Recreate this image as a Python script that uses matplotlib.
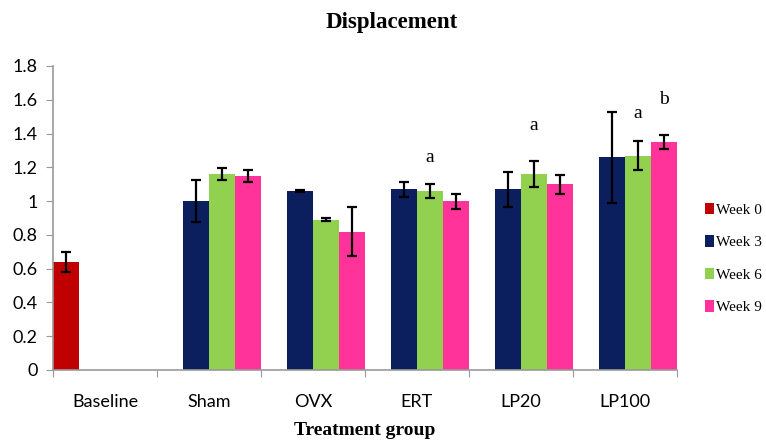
import numpy as np
import matplotlib.pyplot as plt

groups = ['Baseline', 'Sham', 'OVX', 'ERT', 'LP20', 'LP100']
weeks = ['Week 0', 'Week 3', 'Week 6', 'Week 9']
colors = ['#C00000', '#0B1F5E', '#92D050', '#FF3399']

# values per week (None = no bar in that group)
week0 = [0.64, None, None, None, None, None]
week3 = [None, 1.00, 1.06, 1.07, 1.07, 1.26]
week6 = [None, 1.16, 0.89, 1.06, 1.16, 1.27]
week9 = [None, 1.15, 0.82, 1.00, 1.10, 1.35]

err0 = [0.06, 0, 0, 0, 0, 0]
err3 = [0, 0.125, 0.008, 0.046, 0.104, 0.27]
err6 = [0, 0.035, 0.01, 0.043, 0.077, 0.088]
err9 = [0, 0.035, 0.146, 0.045, 0.055, 0.043]

# significance letters: (group index, week index, y, text)
letters = [(3, 2, 1.26, 'a'), (4, 2, 1.45, 'a'), (5, 2, 1.52, 'a'), (5, 3, 1.60, 'b')]

series = [week0, week3, week6, week9]
errs = [err0, err3, err6, err9]

fig = plt.figure(figsize=(7.66, 4.42), dpi=100)
ax = fig.add_axes([0.0692, 0.1629, 0.8146, 0.6878])

w = 0.25
x = np.arange(len(groups))
for j in range(4):
    xs, ys, es = [], [], []
    for i in range(len(groups)):
        if series[j][i] is not None:
            xs.append(x[i] + (j - 1.5) * w)
            ys.append(series[j][i])
            es.append(errs[j][i])
    ax.bar(xs, ys, width=w, color=colors[j], label=weeks[j], zorder=2)
    ax.errorbar(xs, ys, yerr=es, fmt='none', ecolor='black', elinewidth=1.6,
                capsize=3.5, capthick=1.6, zorder=3)

for gi, wi, yv, t in letters:
    ax.text(x[gi] + (wi - 1.5) * w, yv, t, ha='center', va='center',
            fontsize=14, family='Liberation Serif')

ax.set_xlim(-0.5, 5.5)
ax.set_ylim(0, 1.8)
ax.set_yticks(np.arange(0, 1.81, 0.2))
ax.set_yticklabels(['0', '0.2', '0.4', '0.6', '0.8', '1', '1.2', '1.4', '1.6', '1.8'],
                   fontsize=13, family='Lato')
ax.set_xticks(np.arange(-0.5, 6, 1))
ax.set_xticklabels([])
ax.set_xticks(x, minor=True)
ax.set_xticklabels(groups, minor=True, fontsize=13, family='Lato')
ax.tick_params(axis='x', which='major', length=5, color='#999999', direction='out')
ax.tick_params(axis='x', which='minor', length=0, pad=17)
ax.tick_params(axis='y', length=5, color='#999999', pad=6)
for s in ['top', 'right']:
    ax.spines[s].set_visible(False)
for s in ['left', 'bottom']:
    ax.spines[s].set_color('#999999')
    ax.spines[s].set_linewidth(1.2)

fig.text(0.511, 0.948, 'Displacement', ha='center', va='center', fontsize=16.5,
         fontweight='bold', family='Liberation Serif')
fig.text(0.4765, 0.025, 'Treatment group', ha='center', va='center', fontsize=14,
         fontweight='bold', family='Liberation Serif')

leg = fig.legend(loc='center left', bbox_to_anchor=(0.921, 0.415), frameon=False,
                 prop={'family': 'Liberation Serif', 'size': 11},
                 handlelength=0.55, handleheight=0.8, handletextpad=0.12,
                 labelspacing=1.2, borderpad=0, borderaxespad=0)

fig.savefig('out.png', dpi=100)
